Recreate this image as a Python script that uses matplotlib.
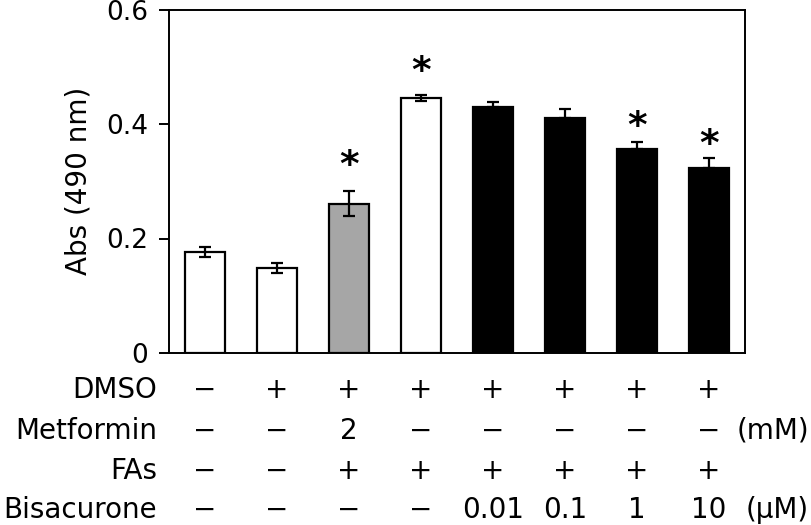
import matplotlib
matplotlib.use("Agg")
import matplotlib.pyplot as plt
import matplotlib.transforms as mtransforms

# ---- data ----
values = [0.177, 0.148, 0.261, 0.445, 0.430, 0.410, 0.357, 0.323]
errors = [0.009, 0.009, 0.022, 0.005, 0.009, 0.017, 0.012, 0.017]
bar_colors = ["white", "white", "#a6a6a6", "white", "black", "black", "black", "black"]
both_sided = [True, True, True, True, False, False, False, False]
significant = [False, False, True, True, False, False, True, True]
star_offsets = [0, 0, 0.044, 0.040, 0, 0, 0.025, 0.024]

row_labels = ["DMSO", "Metformin", "FAs", "Bisacurone"]
row_units = ["", "(mM)", "", "(µM)"]
table_rows = [
    ["−", "+", "+", "+", "+", "+", "+", "+"],
    ["−", "−", "2", "−", "−", "−", "−", "−"],
    ["−", "−", "+", "+", "+", "+", "+", "+"],
    ["−", "−", "−", "−", "0.01", "0.1", "1", "10"],
]
yticks = [0, 0.2, 0.4, 0.6]
ytick_labels = ["0", "0.2", "0.4", "0.6"]

plt.rcParams["font.family"] = ["DejaVu Sans"]

W, H = 812, 525
fig = plt.figure(figsize=(W / 100, H / 100), dpi=100)
ax = fig.add_axes([169 / W, 1 - 353 / H, (745 - 169) / W, (353 - 9.5) / H])

x = list(range(len(values)))
ax.bar(x, values, width=0.56, color=bar_colors, edgecolor="black", linewidth=1.6, zorder=2)
for xi, v, e, both in zip(x, values, errors, both_sided):
    yerr = [[e], [e]] if both else [[0], [e]]
    ax.errorbar([xi], [v], yerr=yerr, fmt="none", ecolor="black", elinewidth=1.6,
                capsize=4.5, capthick=1.6, zorder=3)
for xi, v, e, sig, off in zip(x, values, errors, significant, star_offsets):
    if sig:
        ax.text(xi, v + e + off, "*", ha="center", va="center", fontsize=27,
                fontweight="bold", color="black")

ax.set_xlim(-0.5, len(values) - 0.5)
ax.set_ylim(0, 0.6)
ax.set_xticks([])
ax.set_yticks(yticks)
ax.set_yticklabels(ytick_labels, fontsize=19)
ax.tick_params(axis="y", direction="out", length=7, width=1.4, pad=8)
for s in ax.spines.values():
    s.set_linewidth(1.4)
ax.set_ylabel("Abs (490 nm)", fontsize=20, labelpad=10)

trans = mtransforms.blended_transform_factory(ax.transData, fig.transFigure)
row_y = [390, 431, 471, 510]
for r, (lab, unit, cells) in enumerate(zip(row_labels, row_units, table_rows)):
    yf = 1 - row_y[r] / H
    fig.text(157 / W, yf, lab, ha="right", va="center", fontsize=20)
    for xi, c in zip(x, cells):
        ax.text(xi, yf, c, transform=trans, ha="center", va="center", fontsize=20,
                clip_on=False)
    if unit:
        fig.text(809 / W, yf, unit, ha="right", va="center", fontsize=20)

fig.savefig("out.png", dpi=100)
